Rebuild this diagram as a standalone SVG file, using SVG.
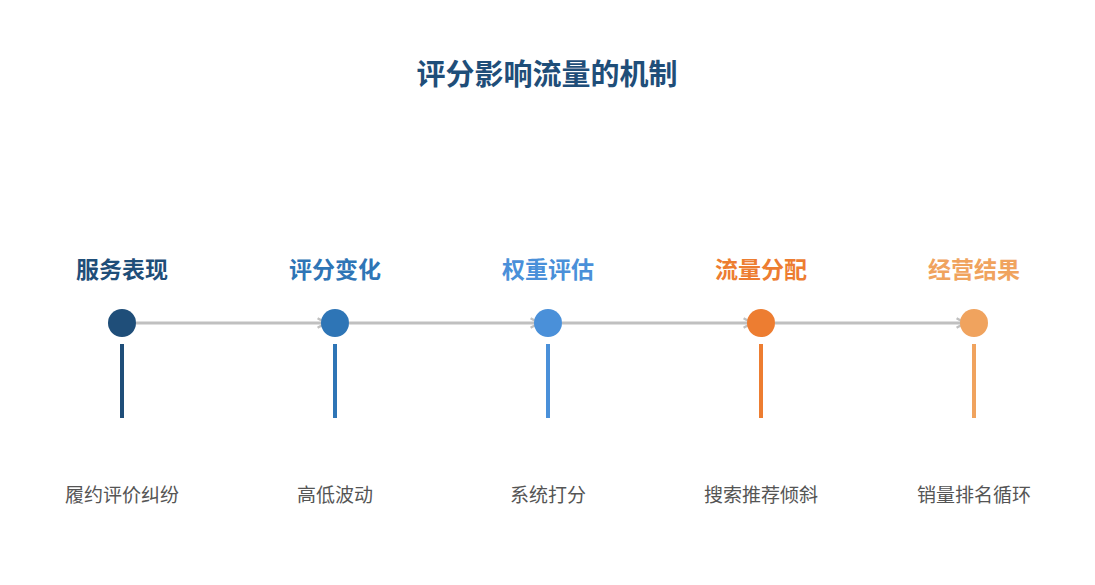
<svg xmlns="http://www.w3.org/2000/svg" width="1095" height="585" viewBox="0 0 1095 585">
<defs>
<style>
text{font-family:"Noto Sans CJK SC","Liberation Sans",sans-serif;text-anchor:middle}
.title{font-size:29px;font-weight:bold;fill:#1f4e79}
.lbl{font-size:23px;font-weight:bold}
.desc{font-size:19px;fill:#555555}
.conn{stroke:#c0c0c0;stroke-width:3;fill:none}
.stem{stroke-width:4}
</style>
<marker id="arr" viewBox="0 0 10 10" refX="8" refY="5" markerWidth="4" markerHeight="4" orient="auto" markerUnits="strokeWidth">
<path d="M1,1 L8,5 L1,9" fill="none" stroke="#c0c0c0" stroke-width="2"/>
</marker>
</defs>
<rect width="1095" height="585" fill="#ffffff"/>
<text class="title" x="547" y="85">评分影响流量的机制</text>
<g id="connectors">
<line class="conn" x1="136" y1="323" x2="326" y2="323" marker-end="url(#arr)"/>
<line class="conn" x1="349" y1="323" x2="539" y2="323" marker-end="url(#arr)"/>
<line class="conn" x1="562" y1="323" x2="752" y2="323" marker-end="url(#arr)"/>
<line class="conn" x1="775" y1="323" x2="965" y2="323" marker-end="url(#arr)"/>
</g>
<g id="n1">
<text class="lbl" x="122" y="278" fill="#1f4e79">服务表现</text>
<circle cx="122" cy="323" r="14" fill="#1f4e79"/>
<line class="stem" x1="122" y1="344" x2="122" y2="418" stroke="#1f4e79"/>
<text class="desc" x="122" y="502">履约评价纠纷</text>
</g>
<g id="n2">
<text class="lbl" x="335" y="278" fill="#2e75b6">评分变化</text>
<circle cx="335" cy="323" r="14" fill="#2e75b6"/>
<line class="stem" x1="335" y1="344" x2="335" y2="418" stroke="#2e75b6"/>
<text class="desc" x="335" y="502">高低波动</text>
</g>
<g id="n3">
<text class="lbl" x="548" y="278" fill="#4a90d9">权重评估</text>
<circle cx="548" cy="323" r="14" fill="#4a90d9"/>
<line class="stem" x1="548" y1="344" x2="548" y2="418" stroke="#4a90d9"/>
<text class="desc" x="548" y="502">系统打分</text>
</g>
<g id="n4">
<text class="lbl" x="761" y="278" fill="#ed7d31">流量分配</text>
<circle cx="761" cy="323" r="14" fill="#ed7d31"/>
<line class="stem" x1="761" y1="344" x2="761" y2="418" stroke="#ed7d31"/>
<text class="desc" x="761" y="502">搜索推荐倾斜</text>
</g>
<g id="n5">
<text class="lbl" x="974" y="278" fill="#f0a35e">经营结果</text>
<circle cx="974" cy="323" r="14" fill="#f0a35e"/>
<line class="stem" x1="974" y1="344" x2="974" y2="418" stroke="#f0a35e"/>
<text class="desc" x="974" y="502">销量排名循环</text>
</g>
</svg>
